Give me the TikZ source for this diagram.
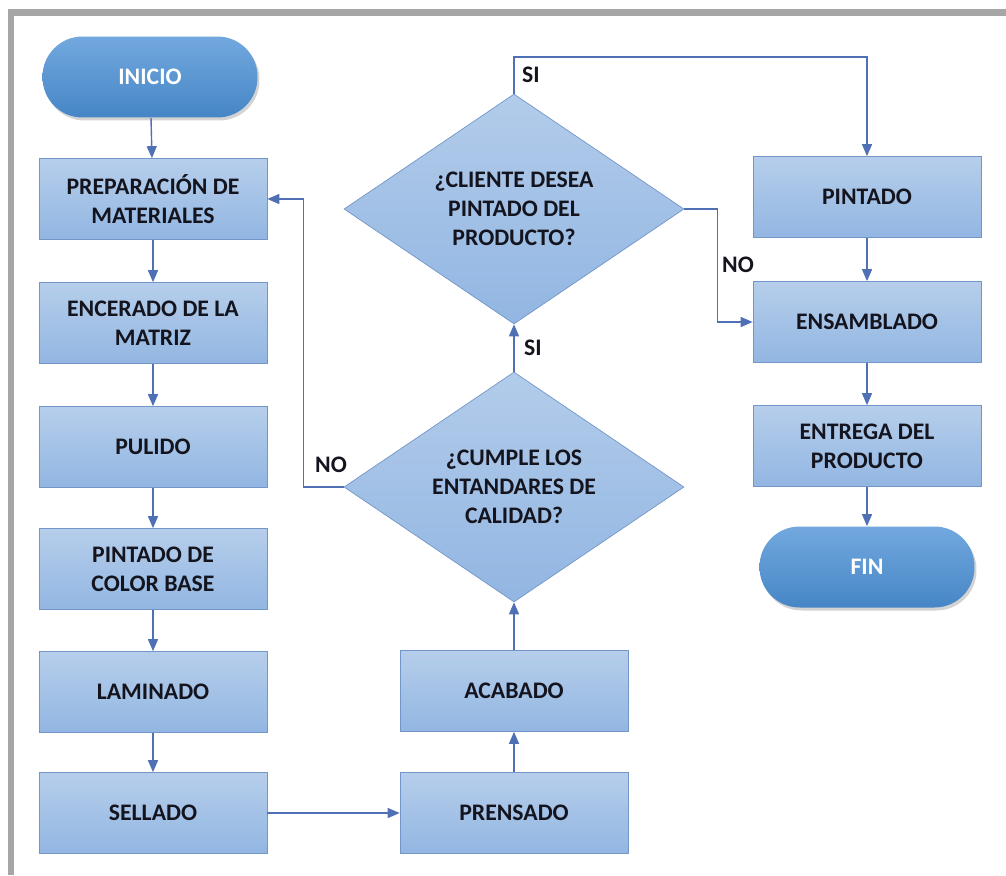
\documentclass[tikz,border=0pt]{standalone}
\usepackage{fontspec}
\setmainfont{Carlito}
\usetikzlibrary{shapes.geometric, arrows.meta, shadows}
\definecolor{boxtop}{HTML}{B6CEEB}
\definecolor{boxbot}{HTML}{92B6E2}
\definecolor{boxline}{HTML}{7396C8}
\definecolor{termtop}{HTML}{72A8DE}
\definecolor{termbot}{HTML}{4686C6}
\definecolor{arrowblue}{HTML}{4F70B4}
\definecolor{frame}{HTML}{A6A6A6}
\definecolor{ink}{HTML}{14141E}
\tikzstyle{proc} = [rectangle, minimum width=4.56cm, minimum height=1.62cm, text centered, align=center, draw=boxline, top color=boxtop, bottom color=boxbot, text=ink, font=\fontsize{13.5}{16.5}\selectfont\bfseries]
\tikzstyle{term} = [rectangle, rounded corners=0.8cm, minimum width=4.3cm, minimum height=1.62cm, text centered, top color=termtop, bottom color=termbot, text=white, font=\fontsize{13.5}{16.5}\selectfont\bfseries, drop shadow={opacity=0.35, shadow xshift=0.04cm, shadow yshift=-0.06cm}]
\tikzstyle{decision} = [diamond, aspect=1.48, inner sep=0pt, minimum width=6.8cm, minimum height=4.6cm, text centered, align=center, draw=boxline, top color=boxtop!90!boxbot, bottom color=boxbot, text=ink, font=\fontsize{13.5}{16.5}\selectfont\bfseries]
\tikzstyle{arrow} = [line width=0.8pt, draw=arrowblue, -{Triangle[length=0.24cm, width=0.2cm]}]
\tikzstyle{tag} = [text=ink, font=\fontsize{13.5}{16.5}\selectfont\bfseries]

\begin{document}
\begin{tikzpicture}[x=0.02cm, y=-0.02cm]
        \useasboundingbox (0,0) rectangle (1006,875);
        \draw[frame, line width=0.14cm] (11,875) -- (11,13) -- (1006,13);

        % left column
        \node (inicio) [term] at (150,77) {INICIO};
        \node (prep) [proc] at (153,199) {PREPARACIÓN DE\\MATERIALES};
        \node (encer) [proc] at (153,323) {ENCERADO DE LA\\MATRIZ};
        \node (pulido) [proc] at (153,447) {PULIDO};
        \node (base) [proc] at (153,569) {PINTADO DE\\COLOR BASE};
        \node (lamin) [proc] at (153,692) {LAMINADO};
        \node (sellado) [proc] at (153,813) {SELLADO};

        % middle column
        \node (prensado) [proc] at (514,813) {PRENSADO};
        \node (acabado) [proc] at (514,691) {ACABADO};
        \node (cumple) [decision] at (514,487) {¿CUMPLE LOS\\ENTANDARES DE\\CALIDAD?};
        \node (cliente) [decision] at (514,209) {¿CLIENTE DESEA\\PINTADO DEL\\PRODUCTO?};

        % right column
        \node (pintado) [proc] at (867,197) {PINTADO};
        \node (ensamb) [proc] at (867,322) {ENSAMBLADO};
        \node (entrega) [proc] at (867,446) {ENTREGA DEL\\PRODUCTO};
        \node (fin) [term] at (867,567) {FIN};

        \draw [arrow] (inicio) -- (prep);
        \draw [arrow] (prep) -- (encer);
        \draw [arrow] (encer) -- (pulido);
        \draw [arrow] (pulido) -- (base);
        \draw [arrow] (base) -- (lamin);
        \draw [arrow] (lamin) -- (sellado);
        \draw [arrow] (sellado) -- (prensado);
        \draw [arrow] (prensado) -- (acabado);
        \draw [arrow] (acabado) -- (cumple);
        \draw [arrow] (cumple) -- node[tag, right=2pt]{SI} (cliente);
        \draw [arrow] (cumple.west) -- ++(-40,0) |- (prep.east);
        \node (no1) [tag] at (331,465) {NO};

        \coordinate (up1) at (514,57);
        \draw [arrow] (cliente.north) -- (up1) -| (pintado.north);
        \node (si2) [tag] at (531,75) {SI};
        \draw [arrow] (cliente.east) -- ++(33,0) |- (ensamb.west);
        \node (no2) [tag] at (738,265) {NO};

        \draw [arrow] (pintado) -- (ensamb);
        \draw [arrow] (ensamb) -- (entrega);
        \draw [arrow] (entrega) -- (fin);
\end{tikzpicture}
\end{document}
